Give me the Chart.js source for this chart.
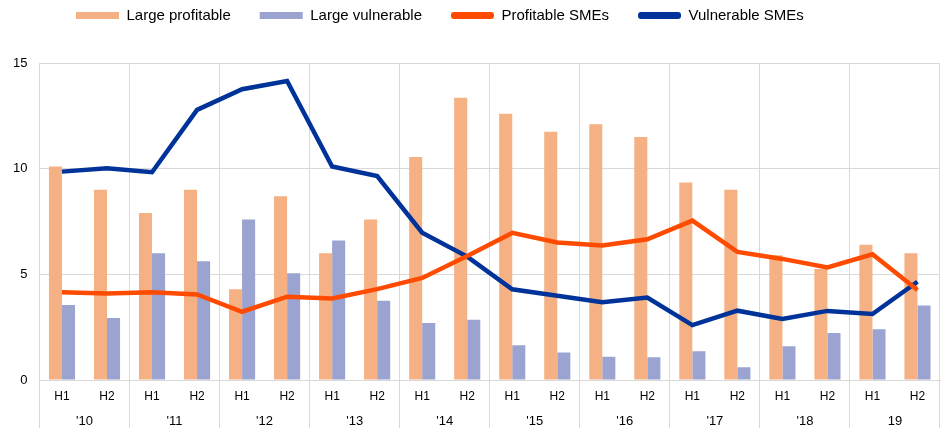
<!DOCTYPE html>
<html>
<head>
<meta charset="utf-8">
<script src="https://cdn.jsdelivr.net/npm/chart.js@4"></script>
<style>
  html, body { margin: 0; padding: 0; background: #ffffff; }
  #wrap { width: 941px; height: 430px; }
</style>
</head>
<body>
<div id="wrap"><canvas id="c" width="941" height="430"></canvas></div>
<script>
// ---- data ----
const HALVES = ['H1','H2','H1','H2','H1','H2','H1','H2','H1','H2','H1','H2','H1','H2','H1','H2','H1','H2','H1','H2'];
const YEARS = ["'10", "'11", "'12", "'13", "'14", "'15", "'16", "'17", "'18", "19"];
const LARGE_PROFITABLE = [10.1, 9.0, 7.9, 9.0, 4.3, 8.7, 6.0, 7.6, 10.55, 13.35, 12.6, 11.75, 12.1, 11.5, 9.35, 9.0, 5.9, 5.25, 6.4, 6.0];
const LARGE_VULNERABLE = [3.55, 2.93, 6.0, 5.62, 7.6, 5.05, 6.6, 3.75, 2.7, 2.85, 1.65, 1.3, 1.1, 1.08, 1.36, 0.6, 1.6, 2.22, 2.4, 3.52];
const PROFITABLE_SMES = [4.15, 4.09, 4.15, 4.05, 3.23, 3.94, 3.86, 4.3, 4.83, 5.87, 6.96, 6.51, 6.36, 6.66, 7.54, 6.06, 5.73, 5.33, 5.95, 4.26];
const VULNERABLE_SMES = [9.86, 10.02, 9.83, 12.78, 13.76, 14.15, 10.1, 9.65, 6.97, 5.84, 4.29, 3.99, 3.68, 3.9, 2.6, 3.28, 2.89, 3.27, 3.12, 4.65];
const Y_MIN = 0, Y_MAX = 15, Y_STEP = 5;

// ---- styling ----
const C_LP = '#F5B183';
const C_LV = '#9BA3D0';
const C_PS = '#FF4B00';
const C_VS = '#003399';
const GRID = '#d9d9d9';
const CLEAR = 'rgba(0,0,0,0)';

Chart.defaults.font.family = '"Liberation Sans", Arial, sans-serif';
Chart.defaults.color = '#000';

// place the legend band like the reference (legend items start further right, tight to top)
const legendPlace = {
  id: 'legendPlace',
  beforeLayout(chart) {
    const lg = chart.legend;
    if (lg && !lg.__wrapped) {
      const orig = lg.fit;
      lg.fit = function () { orig.call(this); this.height = 63; };
      lg.__wrapped = true;
    }
  },
  afterLayout(chart) {
    const lg = chart.legend;
    if (!lg) return;
    lg.left = 47;
    lg.top = -21;
  }
};

const defaultGen = Chart.defaults.plugins.legend.labels.generateLabels;

new Chart(document.getElementById('c'), {
  data: {
    labels: HALVES,
    datasets: [
      { type: 'bar', label: 'Large profitable', data: LARGE_PROFITABLE, backgroundColor: C_LP, borderWidth: 0, order: 2 },
      { type: 'bar', label: 'Large vulnerable', data: LARGE_VULNERABLE, backgroundColor: C_LV, borderWidth: 0, order: 2 },
      { type: 'line', label: 'Profitable SMEs', data: PROFITABLE_SMES, borderColor: C_PS, backgroundColor: C_PS, borderWidth: 4.5, pointRadius: 0, tension: 0, order: 0 },
      { type: 'line', label: 'Vulnerable SMEs', data: VULNERABLE_SMES, borderColor: C_VS, backgroundColor: C_VS, borderWidth: 4.5, pointRadius: 0, tension: 0, order: 1 }
    ]
  },
  options: {
    responsive: false,
    animation: false,
    devicePixelRatio: 1,
    layout: { padding: { left: 1, right: 1, top: 0, bottom: 50 } },
    datasets: { bar: { barPercentage: 1, categoryPercentage: 0.58 } },
    plugins: {
      tooltip: { enabled: false },
      legend: {
        position: 'top',
        align: 'start',
        labels: {
          boxWidth: 43,
          boxHeight: 7,
          padding: 29,
          color: '#000',
          font: { size: 15 },
          sort: (a, b) => a.datasetIndex - b.datasetIndex,
          generateLabels: (chart) => defaultGen(chart).map(it => {
            it.lineWidth = 0;
            if (it.datasetIndex >= 2) it.borderRadius = 3;
            return it;
          })
        }
      }
    },
    scales: {
      x: {
        type: 'category',
        position: 'bottom',
        weight: 0,
        offset: true,
        grid: {
          offset: true,
          drawOnChartArea: true,
          drawTicks: true,
          tickLength: 48,
          lineWidth: 1,
          color: (c) => (c.type !== 'tick' || c.index % 2 === 0) ? GRID : CLEAR
        },
        border: { display: true, color: GRID },
        ticks: { mirror: true, padding: -24, autoSkip: false, maxRotation: 0, color: '#000', font: { size: 12 } }
      },
      x2: {
        type: 'category',
        position: 'bottom',
        weight: 1,
        labels: YEARS,
        offset: true,
        grid: { offset: true, drawOnChartArea: false, drawTicks: true, tickLength: 98, color: CLEAR },
        border: { display: false },
        ticks: { mirror: true, padding: -49, autoSkip: false, maxRotation: 0, color: '#000', font: { size: 13 } }
      },
      y: {
        min: Y_MIN,
        max: Y_MAX,
        ticks: { stepSize: Y_STEP, padding: 12, color: '#000', font: { size: 13 } },
        grid: { color: GRID, drawTicks: false, lineWidth: 1 },
        border: { display: true, color: GRID }
      }
    }
  },
  plugins: [legendPlace]
});
</script>
</body>
</html>
